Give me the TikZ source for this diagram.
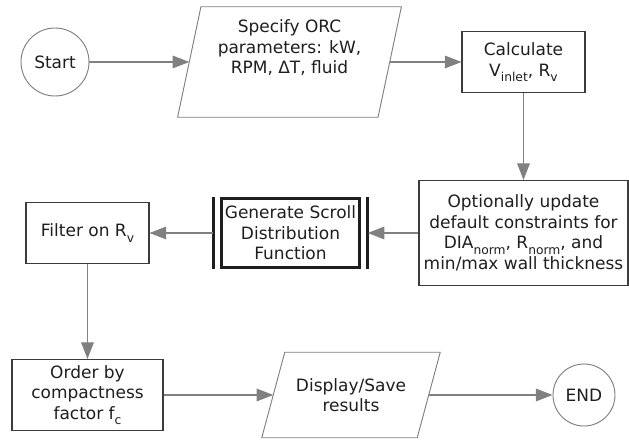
\documentclass[tikz,border=0pt]{standalone}
\usepackage{fontspec}
\setmainfont{DejaVu Sans}
\usetikzlibrary{shapes.geometric, arrows.meta, positioning}
\definecolor{linegray}{HTML}{808080}
\definecolor{boxgray}{HTML}{3C3C3C}
\definecolor{textdark}{HTML}{1E1E1E}
\newcommand{\lowsub}[1]{\raisebox{-0.55ex}{\fontsize{10.5pt}{10.5pt}\selectfont #1}}

\begin{document}
\begin{tikzpicture}[node distance=2cm,
  every node/.style={font=\fontsize{14.5pt}{17.6pt}\selectfont, text=textdark, align=center},
  terminal/.style={circle, draw=linegray, line width=0.8pt},
  io/.style={rectangle, inner sep=0pt},
  ioframe/.style={draw=linegray, line width=0.8pt},
  process/.style={rectangle, draw=boxgray, line width=0.9pt},
  arrow/.style={draw=linegray, line width=0.9pt, -{Triangle[length=0.5cm, width=0.38cm]}},
  bar/.style={draw=textdark, line width=2.8pt}]
\useasboundingbox (0,0) rectangle (18.87,-13.2);

% top row
\node[terminal, minimum size=2.04cm] (start) at (1.65,-1.86) {Start};
\node[io, minimum width=6.0cm, minimum height=3.3cm] (spec) at (8.685,-1.86) {Specify ORC\\parameters: kW,\\RPM, ΔT, fluid\\[0.3cm]};
\draw[ioframe] ([xshift=0.35cm]spec.north west) -- ([xshift=0.35cm]spec.north east) -- ([xshift=-0.35cm]spec.south east) -- ([xshift=-0.35cm]spec.south west) -- cycle;
\node[process, minimum width=3.69cm, minimum height=1.83cm] (calc) at (15.705,-1.86) {Calculate\\V\lowsub{inlet}, R\lowsub{v}};

% middle row
\node[process, minimum width=6.27cm, minimum height=3.15cm] (opt) at (15.705,-6.99) {Optionally update\\default constraints for\\DIA\lowsub{norm}, R\lowsub{norm}, and\\min/max wall thickness};
\node[minimum width=4.62cm, minimum height=2.13cm] (gen) at (8.715,-6.99) {Generate Scroll\\Distribution\\Function};
\node[process, minimum width=3.69cm, minimum height=1.83cm] (filter) at (2.625,-6.99) {Filter on R\lowsub{v}};

% subroutine frame
\draw[draw=textdark, line width=2.6pt] ([xshift=0.24cm, yshift=-0.04cm]gen.north west) rectangle ([xshift=-0.24cm, yshift=0.04cm]gen.south east);
\draw[bar] (gen.north west) -- (gen.south west);
\draw[bar] (gen.north east) -- (gen.south east);

% bottom row
\node[process, minimum width=4.53cm, minimum height=2.13cm] (order) at (2.625,-11.85) {Order by\\compactness\\factor f\lowsub{c}};
\node[io, minimum width=4.65cm, minimum height=2.55cm] (disp) at (10.53,-11.85) {Display/Save\\results};
\draw[ioframe] ([xshift=0.345cm]disp.north west) -- ([xshift=0.345cm]disp.north east) -- ([xshift=-0.345cm]disp.south east) -- ([xshift=-0.345cm]disp.south west) -- cycle;
\node[terminal, minimum size=1.86cm] (end) at (17.52,-11.85) {END};

\draw[arrow] (start) -- (spec);
\draw[arrow] (spec) -- (calc);
\draw[arrow] (calc) -- (opt);
\draw[arrow] (opt) -- (gen);
\draw[arrow] (gen) -- (filter);
\draw[arrow] (filter) -- (order);
\draw[arrow] (order) -- (disp);
\draw[arrow] (disp) -- (end);
\end{tikzpicture}
\end{document}
